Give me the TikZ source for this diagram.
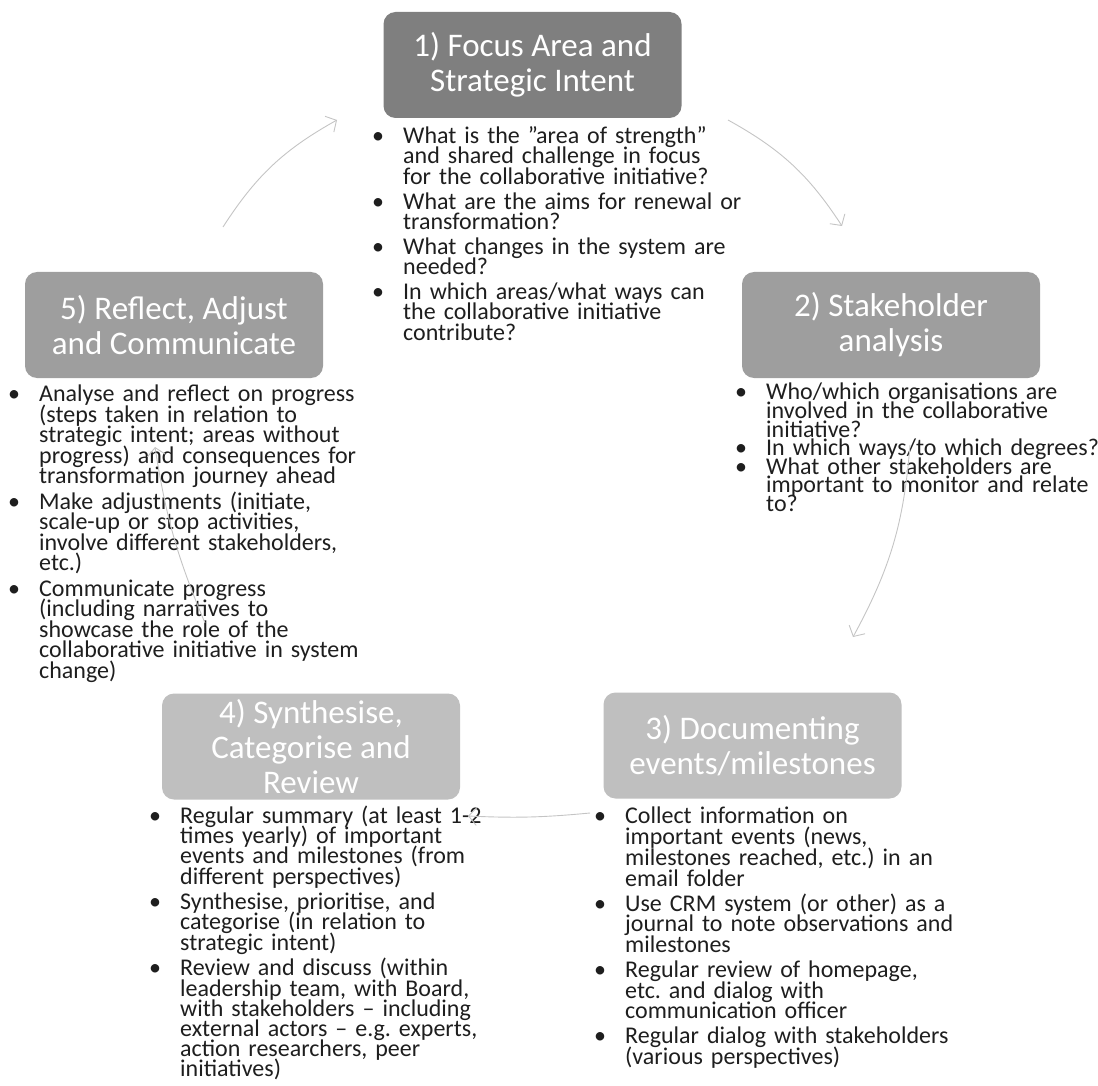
\documentclass[tikz,border=0pt]{standalone}
\usepackage{fontspec}
\setmainfont{Carlito}
\usetikzlibrary{arrows.meta}
\definecolor{stageA}{HTML}{7F7F7F}
\definecolor{stageB}{HTML}{9E9E9E}
\definecolor{stageC}{HTML}{BFBFBF}
\definecolor{bodytext}{HTML}{1E1E1E}
\definecolor{cyclegray}{HTML}{C4C4C4}
\newcommand\bitem[1]{\par\noindent\hangindent=27pt\relax\hangafter=1\relax\makebox[27pt][l]{\rule{0pt}{20pt}\hspace{-4pt}•}\begingroup\def\\{\hfil\break}#1\endgroup\par}
\newcommand\bodysetup[1]{\fontsize{24}{#1}\selectfont\frenchspacing\lineskiplimit=-100pt\relax\lineskip=0pt\relax\parskip=0pt\relax\raggedright}
\tikzset{
  stage/.style={rounded corners=12pt, minimum width=298pt, minimum height=106pt,
    inner sep=0pt, text=white, align=center, font=\fontsize{33}{35}\selectfont},
  bodytxt/.style={anchor=north west, inner sep=0pt, text=bodytext,
    text width=420pt, font=\bodysetup{#1}},
  cyc/.style={draw=cyclegray, line width=0.9pt, -{Straight Barb[length=8pt,width=18pt]}},
}
\begin{document}
\begin{tikzpicture}[x=1pt,y=-1pt]
\useasboundingbox (0,0) rectangle (1098,1086);

% stage boxes
\node[stage, fill=stageA] (s1) at (532.5,65) {1) Focus Area and\\Strategic Intent};
\node[stage, fill=stageB] (s2) at (891,325) {2) Stakeholder\\analysis};
\node[stage, fill=stageC] (s3) at (752.5,745.5) {3) Documenting\\events/milestones};
\node[stage, fill=stageC] (s4) at (311,746.5) {4) Synthesise,\\Categorise and\\Review};
\node[stage, fill=stageB] (s5) at (174,325) {5) Reflect, Adjust\\and Communicate};

% bullet texts
\node[bodytxt=20.3] (t1) at (376,123) {%
\bitem{What is the ”area of strength”\\and shared challenge in focus\\for the collaborative initiative?}\vspace{4.7pt}
\bitem{What are the aims for renewal or\\transformation?}\vspace{4.7pt}
\bitem{What changes in the system are\\needed?}\vspace{4.7pt}
\bitem{In which areas/what ways can\\the collaborative initiative\\contribute?}};

\node[bodytxt=18.6] (t2) at (739,381) {%
\bitem{Who/which organisations are\\involved in the collaborative\\initiative?}
\bitem{In which ways/to which degrees?}
\bitem{What other stakeholders are\\important to monitor and relate\\to?}};

\node[bodytxt=20.7] (t3) at (598,803) {%
\bitem{Collect information on\\important events (news,\\milestones reached, etc.) in an\\email folder}\vspace{4.3pt}
\bitem{Use CRM system (or other) as a\\journal to note observations and\\milestones}\vspace{4.3pt}
\bitem{Regular review of homepage,\\etc. and dialog with\\communication officer}\vspace{4.3pt}
\bitem{Regular dialog with stakeholders\\(various perspectives)}};

\node[bodytxt=20.2] (t4) at (153,803) {%
\bitem{Regular summary (at least 1-2\\times yearly) of important\\events and milestones (from\\different perspectives)}\vspace{5.5pt}
\bitem{Synthesise, prioritise, and\\categorise (in relation to\\strategic intent)}\vspace{5.5pt}
\bitem{Review and discuss (within\\leadership team, with Board,\\with stakeholders – including\\external actors – e.g. experts,\\action researchers, peer\\initiatives)}};

\node[bodytxt=20.5] (t5) at (12,381) {%
\bitem{Analyse and reflect on progress\\(steps taken in relation to\\strategic intent; areas without\\progress) and consequences for\\transformation journey ahead}\vspace{5pt}
\bitem{Make adjustments (initiate,\\scale-up or stop activities,\\involve different stakeholders,\\etc.)}\vspace{5pt}
\bitem{Communicate progress\\(including narratives to\\showcase the role of the\\collaborative initiative in system\\change)}};

% cycle arrows
\coordinate (c51) at (223,227);
\coordinate (c15) at (337,120);
\coordinate (c12) at (728,120);
\coordinate (c21) at (842,226);
\coordinate (c23) at (910,445);
\coordinate (c32) at (853,637);
\coordinate (c34) at (590,813);
\coordinate (c43) at (468,816);
\coordinate (c45) at (205,623);
\coordinate (c54) at (155,447);
\draw[cyc] (c51) to[bend left=14] (c15);
\draw[cyc] (c12) to[bend left=14] (c21);
\draw[cyc] (c23) to[bend left=12] (c32);
\draw[cyc] (c34) to[bend left=4] (c43);
\draw[cyc] (c45) to[bend left=7] (c54);
\end{tikzpicture}
\end{document}
